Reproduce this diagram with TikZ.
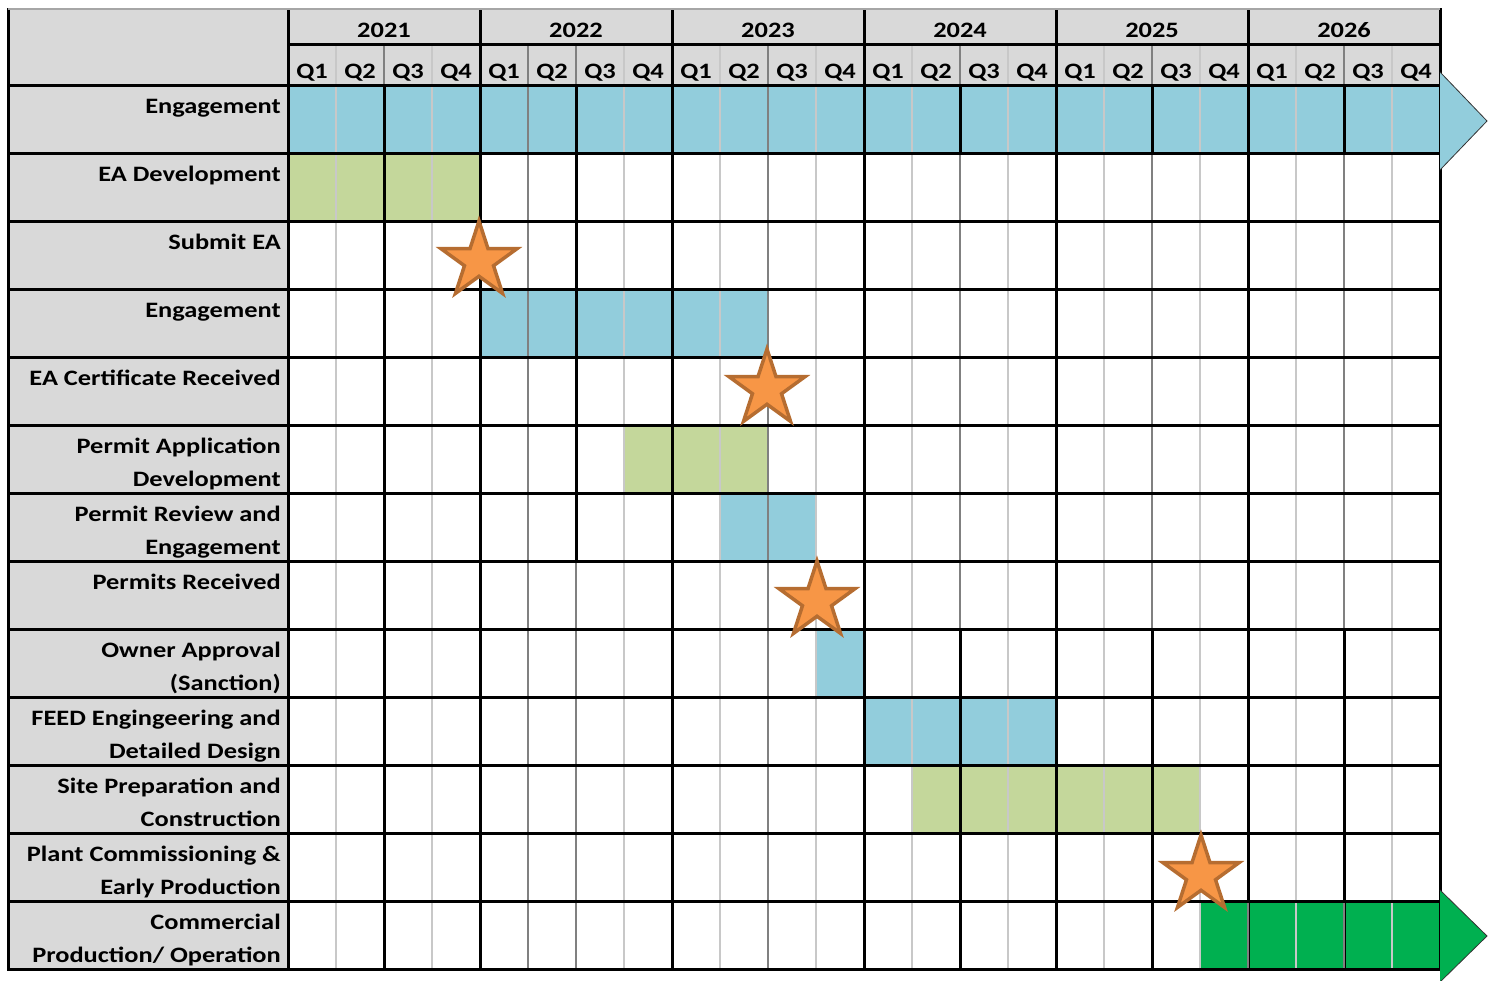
\documentclass[tikz,border=0pt]{standalone}
\usepackage{fontspec}
\setmainfont{Carlito}[FakeStretch=1.2]
\usetikzlibrary{positioning,shapes.geometric}

\definecolor{hdrgray}{HTML}{D9D9D9}
\definecolor{barblue}{HTML}{92CDDC}
\definecolor{barlime}{HTML}{C4D79B}
\definecolor{bargreen}{HTML}{00B050}
\definecolor{starfill}{HTML}{F79646}
\definecolor{starline}{HTML}{B66D31}
\definecolor{gridlight}{HTML}{C8C8C8}
\definecolor{griddark}{HTML}{808080}

\begin{document}
\begin{tikzpicture}[
    x=1pt, y=-1pt,
    font=\fontsize{22}{33}\selectfont\bfseries,
    task/.style={anchor=base east,align=right,inner sep=0pt},
    yearlabel/.style={anchor=base,inner sep=0pt},
    qlabel/.style={anchor=base,inner sep=0pt},
    milestone/.style={star,star points=5,star point ratio=2.618,minimum size=80pt,inner sep=0pt,fill=starfill,draw=starline,line width=3.5pt},
    qline/.style={draw=gridlight,line width=2pt},
    hline/.style={draw=griddark,line width=2pt},
    yline/.style={draw=black,line width=3pt,line cap=rect},
    tip/.style={draw=black!80,line width=0.8pt}
]
\useasboundingbox (0,0) rectangle (1491,980);

% header and label column
\fill[hdrgray] (8,9) rectangle (1440,85);
\fill[hdrgray] (8,85) rectangle (288,969);

% bars
\fill[barblue] (288,85) rectangle (1440,153);
\fill[barlime] (288,153) rectangle (480,221);
\fill[barblue] (480,289) rectangle (768,357);
\fill[barlime] (624,425) rectangle (768,493);
\fill[barblue] (720,493) rectangle (816,561);
\fill[barblue] (816,629) rectangle (864,697);
\fill[barblue] (864,697) rectangle (1056,765);
\fill[barlime] (912,765) rectangle (1200,833);
\fill[bargreen] (1200,901) rectangle (1440,969);

% grid
\foreach \x in {336,432,624,720,816,912,1008,1104,1200,1296,1392}
  \draw[qline] (\x,44) -- (\x,969);
\foreach \x in {528,768}
  \draw[hline] (\x,44) -- (\x,969);
\foreach \x in {384,576,960,1152,1344}
  \draw[hline] (\x,44) -- (\x,85);
\draw[yline] (384,85) -- (384,969);
\draw[yline] (576,85) -- (576,561);
\draw[hline] (576,561) -- (576,969);
\foreach \x in {960,1152,1344} {
  \draw[yline] (\x,85) -- (\x,153);
  \draw[hline] (\x,153) -- (\x,629);
  \draw[yline] (\x,629) -- (\x,969);
}
\foreach \x in {288,480,672,864,1056,1248,1440}
  \draw[yline] (\x,9) -- (\x,969);
\draw[yline] (8,9) -- (8,969);
\foreach \x in {1200,1296,1392}
  \draw[qline] (\x,901) -- (\x,969);
\foreach \x in {1248,1344}
  \draw[hline] (\x,901) -- (\x,969);
\draw[griddark!70,line width=1.5pt] (8,9) -- (1440,9);
\draw[yline] (288,44) -- (1440,44);
\foreach \y in {85,153,...,969}
  \draw[yline] (8,\y) -- (1440,\y);

% arrow heads
\filldraw[fill=barblue,tip] (1440,72) -- (1487,121) -- (1440,170);
\filldraw[fill=bargreen,tip] (1440,890) -- (1487,936) -- (1440,982);

% years and quarters
\foreach \yr [count=\i from 0] in {2021,...,2026} {
  \node[yearlabel] (y\yr) at ({384+192*\i},37) {\yr};
  \foreach \q in {1,...,4}
    \node[qlabel] (q\yr\q) at ({288+192*\i+48*\q-24},78) {Q\q};
}

% tasks
\node[task] (t1) at (281,113) {Engagement};
\node[task] (t2) at (281,181) {EA Development};
\node[task] (t3) at (281,249) {Submit EA};
\node[task] (t4) at (281,317) {Engagement};
\node[task] (t5) at (281,385) {EA Certificate Received};
\node[task] (t6) at (281,486) {Permit Application\\Development};
\node[task] (t7) at (281,554) {Permit Review and\\Engagement};
\node[task] (t8) at (281,589) {Permits Received};
\node[task] (t9) at (281,690) {Owner Approval\\(Sanction)};
\node[task] (t10) at (281,758) {FEED Engingeering and\\Detailed Design};
\node[task] (t11) at (281,826) {Site Preparation and\\Construction};
\node[task] (t12) at (281,894) {Plant Commissioning \&\\Early Production};
\node[task] (t13) at (281,962) {Commercial\\Production/ Operation};

% milestones
\node[milestone] (m1) at (479,261) {};
\node[milestone] (m2) at (767,389) {};
\node[milestone] (m3) at (817,601) {};
\node[milestone] (m4) at (1201,875) {};

\end{tikzpicture}
\end{document}
